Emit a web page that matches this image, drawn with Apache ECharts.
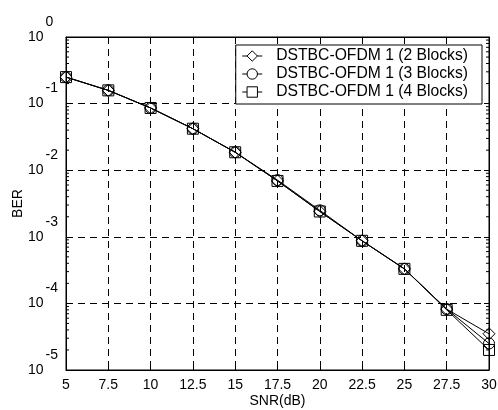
<!DOCTYPE html>
<html><head><meta charset="utf-8">
<script src="https://cdn.jsdelivr.net/npm/echarts@6/dist/echarts.min.js"></script>
<style>html,body{margin:0;padding:0;background:#fff}#c{width:498px;height:410px}</style>
</head><body><div id="c"></div>
<script>
var snr = [5, 7.5, 10, 12.5, 15, 17.5, 20, 22.5, 25, 27.5, 30];
var ber2 = [0.25, 0.158, 0.086, 0.042, 0.0186, 0.0069, 0.0024, 0.00087, 0.00033, 0.000082, 0.000035];
var ber3 = [0.25, 0.158, 0.086, 0.042, 0.0186, 0.0071, 0.0025, 0.00087, 0.00033, 0.000082, 0.000025];
var ber4 = [0.25, 0.158, 0.086, 0.042, 0.0186, 0.0069, 0.0024, 0.00087, 0.00033, 0.000080, 0.000020];
var names = ['DSTBC-OFDM 1 (2 Blocks)', 'DSTBC-OFDM 1 (3 Blocks)', 'DSTBC-OFDM 1 (4 Blocks)'];
var xTicks = ['5', '7.5', '10', '12.5', '15', '17.5', '20', '22.5', '25', '27.5', '30'];
var yExponents = [-5, -4, -3, -2, -1, 0];
var minorMult = [2, 3, 4, 5, 6, 7, 8, 9];

var minorVals = [];
yExponents.slice(0, 5).forEach(function(e){ minorMult.forEach(function(m){ minorVals.push([5, m * Math.pow(10, e)]); }); });

function pairs(ys){ return snr.map(function(x,i){ return [x, ys[i]]; }); }
var font = 'Liberation Sans, Arial, sans-serif';
function mk(name, ys, sym, size){
  return {
    name: name, type: 'line', data: pairs(ys), symbol: sym, symbolSize: size,
    lineStyle: {color: '#000', width: 1},
    itemStyle: {color: 'rgba(0,0,0,0)', borderColor: '#000', borderWidth: 1},
    emphasis: {disabled: true}, z: 5
  };
}
var chart = echarts.init(document.getElementById('c'));
chart.setOption({
  animation: false,
  backgroundColor: '#fff',
  grid: {left: 66, right: 9, top: 37, bottom: 40, show: true, borderColor: '#000', borderWidth: 1,
         containLabel: false, outerBoundsMode: 'none'},
  legend: {
    data: names, right: 16, top: 45, orient: 'vertical', itemGap: 2,
    backgroundColor: '#fff', borderColor: '#000', borderWidth: 1, padding: [3, 14, 4, 6],
    itemWidth: 20, itemHeight: 13,
    itemStyle: {color: '#fff', borderColor: '#000', borderWidth: 1},
    lineStyle: {color: '#000', width: 1},
    textStyle: {fontFamily: font, fontSize: 15.7, lineHeight: 16, color: '#000', padding: [0, 0, 0, 9]}
  },
  xAxis: [{
    type: 'value', min: 5, max: 30, interval: 2.5,
    name: 'SNR(dB)', nameLocation: 'middle', nameGap: 24, nameMoveOverlap: false,
    nameTextStyle: {fontFamily: font, fontSize: 14, color: '#000'},
    axisLine: {lineStyle: {color: '#000'}},
    axisTick: {inside: true, length: 5, lineStyle: {color: '#000'}},
    axisLabel: {fontFamily: font, fontSize: 14, color: '#000', margin: 8,
      formatter: function(v){ var i = snr.indexOf(v); return i >= 0 ? xTicks[i] : ''; }},
    splitLine: {show: true, lineStyle: {color: '#000', type: [7, 5], width: 1}}
  }, {
    type: 'value', position: 'top', min: 5, max: 30, interval: 2.5,
    axisLine: {lineStyle: {color: '#000'}},
    axisTick: {inside: true, length: 5, lineStyle: {color: '#000'}},
    axisLabel: {show: false}, splitLine: {show: false}
  }],
  yAxis: [{
    type: 'log', logBase: 10, min: 1e-5, max: 1,
    name: 'BER', nameLocation: 'middle', nameGap: 41, nameRotate: 90, nameMoveOverlap: false,
    nameTextStyle: {fontFamily: font, fontSize: 14, color: '#000'},
    axisLine: {lineStyle: {color: '#000'}},
    axisTick: {inside: true, length: 5, lineStyle: {color: '#000'}},
    axisLabel: {
      fontFamily: font, color: '#000', margin: 38, align: 'left',
      formatter: function(v){ var e = Math.round(Math.log10(v)); return '{b|10}{s|' + e + '}'; },
      rich: {
        b: {fontFamily: font, fontSize: 14, color: '#000', verticalAlign: 'middle'},
        s: {fontFamily: font, fontSize: 14, color: '#000', verticalAlign: 'middle', padding: [0, 0, 30, 2]}
      }
    },
    splitLine: {show: true, lineStyle: {color: '#000', type: [7, 5], width: 1}}
  }, {
    type: 'log', logBase: 10, min: 1e-5, max: 1, position: 'right',
    axisLine: {lineStyle: {color: '#000'}},
    axisTick: {inside: true, length: 5, lineStyle: {color: '#000'}},
    axisLabel: {show: false}, splitLine: {show: false}
  }],
  series: [
    mk(names[0], ber2, 'diamond', 12), mk(names[1], ber3, 'circle', 11), mk(names[2], ber4, 'rect', 11),
    {
      type: 'custom', name: 'minor', silent: true, clip: false, data: minorVals, z: 3,
      renderItem: function(params, api){
        var v = api.value(1);
        var l = api.coord([5, v]), r = api.coord([30, v]);
        return {type: 'group', children: [
          {type: 'line', shape: {x1: l[0], y1: l[1], x2: l[0] + 3, y2: l[1]}, style: {stroke: '#000', lineWidth: 1}},
          {type: 'line', shape: {x1: r[0], y1: r[1], x2: r[0] - 3, y2: r[1]}, style: {stroke: '#000', lineWidth: 1}}
        ]};
      }
    }
  ]
});
</script></body></html>
